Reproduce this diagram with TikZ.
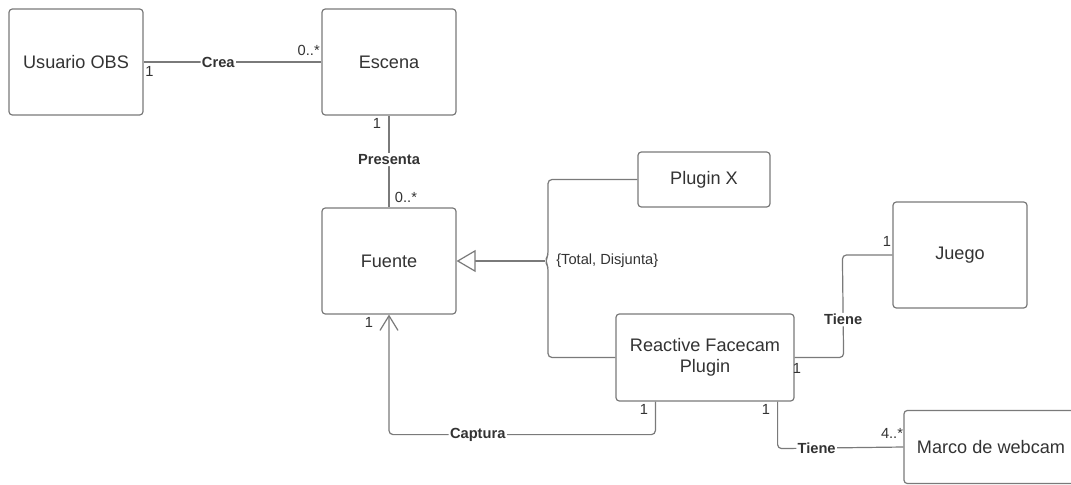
\documentclass[tikz,border=0pt]{standalone}
\usepackage{fontspec}
\setmainfont{Liberation Sans}
\usetikzlibrary{arrows.meta,calc}
\definecolor{ln}{HTML}{7A7A7A}
\definecolor{tx}{HTML}{333333}
\tikzset{
  cls/.style={draw=ln, line width=0.9pt, rounded corners=2.5pt, fill=white, text=tx, font=\fontsize{13.6}{16}\selectfont, align=center, inner sep=0pt},
  conn/.style={draw=ln, line width=0.9pt, rounded corners=3pt},
  lab/.style={fill=white, text=tx, font=\bfseries\fontsize{11}{13}\selectfont, inner sep=1pt},
  mult/.style={text=tx, font=\fontsize{11}{13}\selectfont, inner sep=0pt},
}
\begin{document}
\begin{tikzpicture}[x=0.75pt,y=-0.75pt]
\useasboundingbox (0,0) rectangle (1071,485);
\clip (0,0) rectangle (1071,485);
\fill[white] (0,0) rectangle (1071,485);
% classes
\node[cls, minimum width=100.5pt, minimum height=79.5pt] (U) at (76,62) {Usuario OBS};
\node[cls, minimum width=100.5pt, minimum height=79.5pt] (E) at (389,62) {Escena};
\node[cls, minimum width=100.5pt, minimum height=79.5pt] (F) at (389,261) {Fuente};
\node[cls, minimum width=99pt, minimum height=41.25pt] (PX) at (704,179.5) {Plugin X};
\node[cls, minimum width=100.5pt, minimum height=79.5pt] (J) at (960,255) {Juego};
\node[cls, minimum width=133.5pt, minimum height=65.25pt] (R) at (705,357.5) {Reactive Facecam\\Plugin};
\node[cls, minimum width=130.5pt, minimum height=54.75pt] (M) at (991,447) {Marco de webcam};
% junction of generalization
\coordinate (G) at (545,261);
% Crea
\draw[conn] (U.east) -- node[lab, pos=0.42] {Crea} (E.west);
\node[mult, anchor=north west] (m1) at (145,66) {1};
\node[mult, anchor=south east] (m2) at (320,56) {0..*};
% Presenta
\draw[conn] (E.south) -- node[lab, pos=0.48] {Presenta} (F.north);
\node[mult] (m3) at (377,123) {1};
\node[mult] (m4) at (406,197) {0..*};
% generalization
\draw[conn] (PX.west) -| ($(G)+(3,-5)$) -- (G) -- ($(G)+(3,5)$) |- (R.west);
\draw[draw=ln, line width=0.9pt, -{Triangle[open, length=14.25pt, width=16.5pt, fill=white]}] (G) -- (F.east);
\node[text=tx, font=\fontsize{11}{13}\selectfont, anchor=west, inner sep=0pt] (tdj) at (556,261) {\{Total, Disjunta\}};
% Captura
\draw[conn, -{Straight Barb[length=11pt, width=13.5pt, line width=0.9pt]}]
  ($(R.south west)+(40,0)$) -- ($(R.south west)+(40,33)$) -- node[lab, pos=0.667] {Captura} ($(F.south)+(0,120)$) -- (F.south);
\node[mult] (m5) at (369,322) {1};
\node[mult] (m6) at (644,409) {1};
% Tiene Juego
\draw[conn] (R.east) -- ($(R.east)+(49,0)$) -- node[lab, pos=0.37] {Tiene} ($(J.west)+(-50,0)$) -- (J.west);
\node[mult] (m7) at (797,368) {1};
\node[mult] (m8) at (887,241) {1};
% Tiene Marco
\draw[conn] ($(R.south east)+(-17,0)$) -- ($(R.south east)+(-17,47)$) -- node[lab, pos=0.31] {Tiene} (M.west);
\node[mult] (m9) at (766,409) {1};
\node[mult] (m10) at (892,433) {4..*};
\end{tikzpicture}
\end{document}
